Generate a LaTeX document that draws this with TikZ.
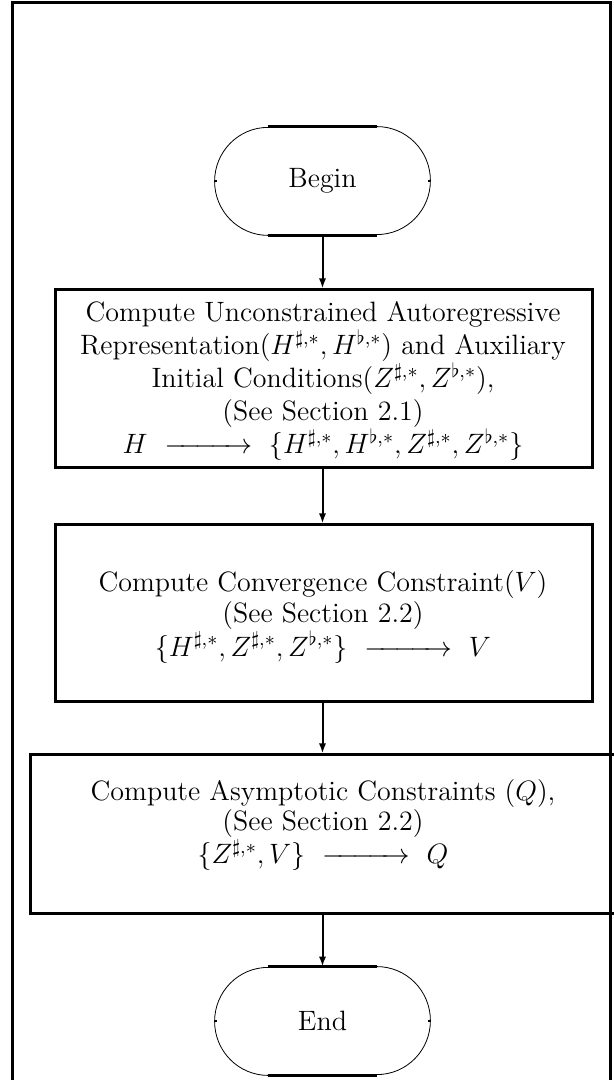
\documentclass[tikz,border=0pt]{standalone}
\usepackage{fix-cm}
\usepackage{amsmath}
\usetikzlibrary{arrows.meta,calc}

% a long "maps to" arrow used in the box formulas
\newcommand{\longto}{\ \xrightarrow{\hspace{36pt}}\ }

\tikzset{
  frameline/.style={line width=1.5pt},
  procbox/.style={draw, line width=1.5pt, inner sep=0pt},
  proctext/.style={align=center, inner sep=0pt,
    font=\fontsize{14}{15.2}\selectfont},
  termnode/.style={minimum width=107.5pt, minimum height=54pt, inner sep=0pt,
    font=\fontsize{14}{15.2}\selectfont},
  termflat/.style={line width=1.5pt},
  termarc/.style={line width=0.4pt},
  flow/.style={line width=1pt, -{Latex[length=5pt,width=3.6pt]}},
}

% draws a stadium-shaped terminal: thick flat edges, thin round ends
\newcommand{\terminal}[1]{%
  \draw[termflat] ([xshift=26.75pt]#1.north west) -- ([xshift=-26.75pt]#1.north east);
  \draw[termflat] ([xshift=26.75pt]#1.south west) -- ([xshift=-26.75pt]#1.south east);
  \draw[termarc] ([xshift=-26.75pt]#1.north east)
    arc[start angle=90, end angle=-90, x radius=26.75pt, y radius=27pt];
  \draw[termarc] ([xshift=26.75pt]#1.south west)
    arc[start angle=270, end angle=90, x radius=26.75pt, y radius=27pt];
  \draw[line width=0.8pt] (#1.west) -- ++(1.2pt,0);
  \draw[line width=0.8pt] (#1.east) -- ++(-1.2pt,0);
}

\begin{document}
\begin{tikzpicture}[x=0.5pt, y=0.5pt]
  \useasboundingbox (0,0) rectangle (614,1080);

  % outer frame
  \draw[frameline] (12,1077) rectangle (610,-30);

  % start / stop terminals
  \node[termnode] (begin) at (322.5,899) {Begin};
  \terminal{begin}
  \node[termnode] (end) at (322.5,59) {End};
  \terminal{end}

  % process boxes
  \node[procbox, minimum width=268.5pt, minimum height=89pt] (unc) at (323.5,701) {};
  \node[proctext, font=\fontsize{14}{16.5}\selectfont] (unctext) at (323,699)
    {Compute Unconstrained Autoregressive\\
     Representation($H^{\sharp,*},H^{\flat,*}$) and Auxiliary\\
     Initial Conditions($Z^{\sharp,*},Z^{\flat,*}$),\\
     (See Section 2.1)\\
     $H\longto\{H^{\sharp,*},H^{\flat,*},Z^{\sharp,*},Z^{\flat,*}\}$};

  \node[procbox, minimum width=268.5pt, minimum height=88.5pt] (conv) at (323.5,466.5) {};
  \node[proctext] (convtext) at (323,463)
    {Compute Convergence Constraint($V$)\\
     (See Section 2.2)\\
     $\{H^{\sharp,*},Z^{\sharp,*},Z^{\flat,*}\}\longto V$};

  \node[procbox, minimum width=293pt, minimum height=79.5pt] (asym) at (323,245.5) {};
  \node[proctext] (asymtext) at (323,255)
    {Compute Asymptotic Constraints ($Q$),\\
     (See Section 2.2)\\
     $\{Z^{\sharp,*},V\}\longto Q$};

  % connectors
  \draw[flow] (begin.south) -- (begin.south |- unc.north);
  \draw[flow] (begin.south |- unc.south) -- (begin.south |- conv.north);
  \draw[flow] (begin.south |- conv.south) -- (begin.south |- asym.north);
  \draw[flow] (begin.south |- asym.south) -- (end.north);
\end{tikzpicture}
\end{document}
